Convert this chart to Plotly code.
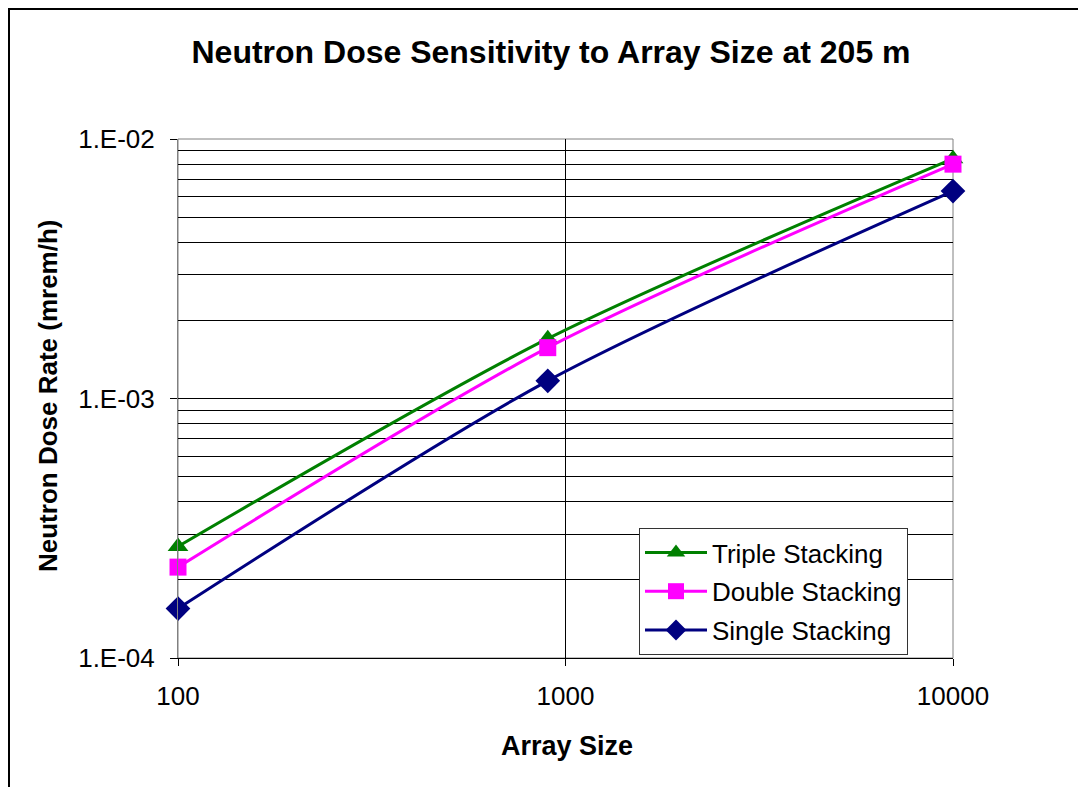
import plotly.graph_objects as go

array_size = [100, 900, 10000]
triple = [2.69e-4, 1.70e-3, 8.4e-3]
double = [2.24e-4, 1.57e-3, 8.0e-3]
single = [1.55e-4, 1.17e-3, 6.3e-3]

y_major = [1e-4, 1e-3, 1e-2]
y_major_text = ["1.E-04", "1.E-03", "1.E-02"]
y_minor = [m * 10.0 ** e for e in (-4, -3) for m in range(2, 10)]
x_major = [100, 1000, 10000]
x_major_text = ["100", "1000", "10000"]

FONT = "Liberation Sans, Arial, sans-serif"
OFF = 8  # page body margin
W, H = 1086 - OFF, 787 - OFF
# plot area in reference (window) pixel coords
L, R, T, B = 178, 953, 139, 658

fig = go.Figure()
series = [
    ("Triple Stacking", triple, "#008000", "triangle-up", 18),
    ("Double Stacking", double, "#FF00FF", "square", 17),
    ("Single Stacking", single, "#000080", "diamond", 19),
]
for i, (name, vals, col, sym, sz) in enumerate(series):
    fig.add_trace(go.Scatter(
        x=array_size, y=vals, name=name, mode="lines+markers",
        line=dict(color=col, width=3, shape="spline", smoothing=0.8),
        marker=dict(symbol=sym, size=sz, color=col),
        cliponaxis=False, legendgroup=f"g{i}",
    ))

def px(x):
    return (x - L) / (R - L)

def py(y):
    return (B - y) / (B - T)

fig.update_layout(
    width=W, height=H,
    margin=dict(l=L - OFF, r=W - (R - OFF), t=T - OFF, b=H - (B - OFF)),
    paper_bgcolor="white", plot_bgcolor="white",
    font=dict(family=FONT, color="black"),
    title=dict(text="<b>Neutron Dose Sensitivity to Array Size at 205 m</b>",
               x=(551 - OFF) / W, xanchor="center", y=1 - (52 - OFF) / H, yanchor="middle",
               font=dict(size=32, family=FONT, color="black")),
    xaxis=dict(type="log", range=[2, 4], tickvals=x_major, ticktext=x_major_text,
               showgrid=True, gridcolor="#000000", gridwidth=1,
               showline=True, linecolor="#000000", linewidth=1,
               ticks="outside", ticklen=7, tickcolor="#000000",
               ticklabelstandoff=8,
               tickfont=dict(size=26, family=FONT), zeroline=False),
    yaxis=dict(type="log", range=[-4, -2], tickvals=y_major, ticktext=y_major_text,
               showgrid=True, gridcolor="#000000", gridwidth=1,
               showline=True, linecolor="#808080", linewidth=1,
               ticks="outside", ticklen=7, tickcolor="#000000",
               ticklabelstandoff=10,
               tickfont=dict(size=26, family=FONT), zeroline=False,
               minor=dict(tickvals=y_minor, showgrid=True, gridcolor="#000000",
                          gridwidth=1, ticks="")),
    legend=dict(x=px(639), y=py(528), xanchor="left", yanchor="top",
                bgcolor="white", bordercolor="#333333", borderwidth=1,
                font=dict(size=26, family=FONT), itemwidth=62,
                tracegroupgap=2, traceorder="grouped"),
    showlegend=True,
    annotations=[
        dict(text="<b>Array Size</b>", xref="paper", yref="paper",
             x=px(567), y=py(746), showarrow=False,
             font=dict(size=27, family=FONT, color="black"),
             xanchor="center", yanchor="middle"),
        dict(text="<b>Neutron Dose Rate (mrem/h)</b>", xref="paper", yref="paper",
             x=px(48), y=py(396), showarrow=False, textangle=-90,
             font=dict(size=26, family=FONT, color="black"),
             xanchor="center", yanchor="middle"),
    ],
    shapes=[
        dict(type="rect", xref="paper", yref="paper", x0=0, x1=1, y0=0, y1=1,
             line=dict(color="#808080", width=1), layer="below"),
        dict(type="line", xref="paper", yref="paper",
             x0=px(9), x1=px(9), y0=py(8), y1=py(800),
             line=dict(color="black", width=2)),
        dict(type="line", xref="paper", yref="paper",
             x0=px(8), x1=px(1100), y0=py(9), y1=py(9),
             line=dict(color="black", width=2)),
    ],
)

fig.write_html("out.html")
